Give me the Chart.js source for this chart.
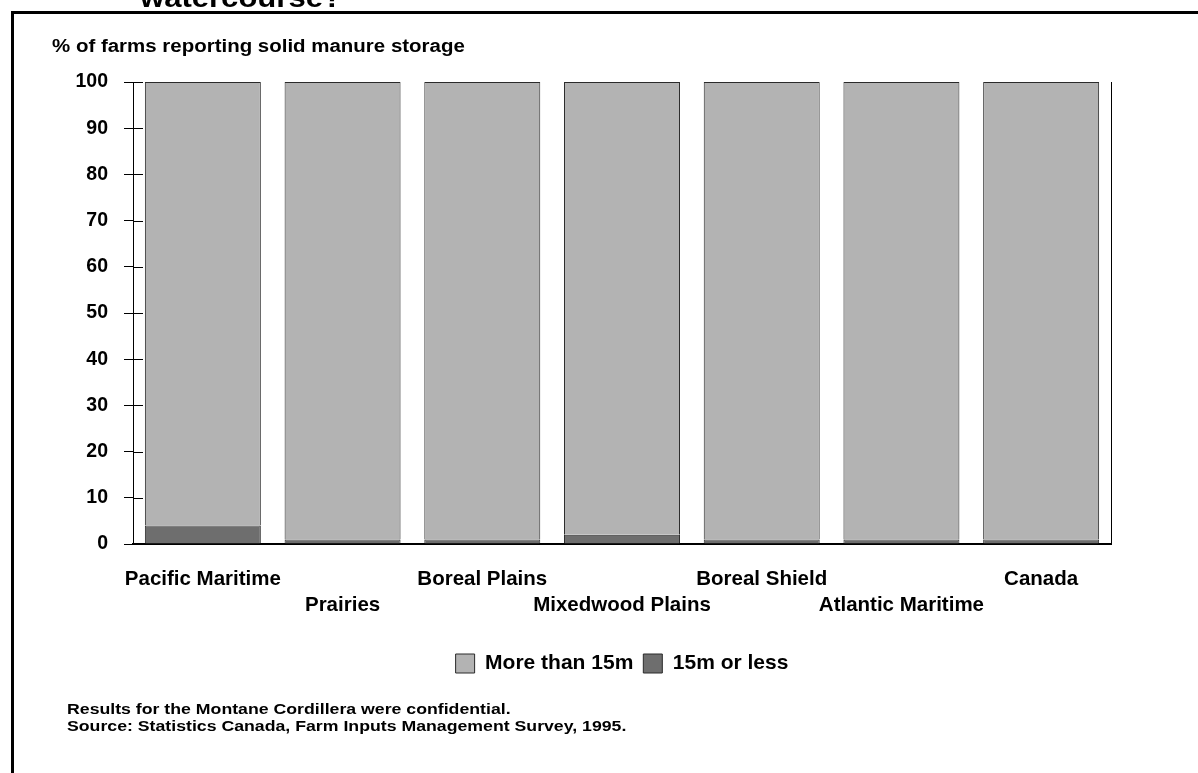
<!DOCTYPE html>
<html>
<head>
<meta charset="utf-8">
<script src="https://cdn.jsdelivr.net/npm/chart.js@4.4.1/dist/chart.umd.min.js"></script>
<style>
  html, body { margin: 0; padding: 0; background: #fff; overflow: hidden; }
</style>
</head>
<body>
<canvas id="chart" width="1198" height="773"></canvas>
<script>
/* data */
const regions = [
  'Pacific Maritime',
  'Prairies',
  'Boreal Plains',
  'Mixedwood Plains',
  'Boreal Shield',
  'Atlantic Maritime',
  'Canada'
];
const moreThan15m = [96, 99, 99, 98, 99, 99, 99];
const fifteenOrLess = [4, 1, 1, 2, 1, 1, 1];
const yTickValues = [0, 10, 20, 30, 40, 50, 60, 70, 80, 90, 100];

const FONT = '"Liberation Sans", Arial, sans-serif';

/* alternate the category labels on two rows */
const staggered = regions.map((r, i) => i % 2 === 0 ? [r, ''] : ['', r]);

/* text drawn a little wider than tall, like the scanned original */
function wideText(ctx, text, x, y, sx) {
  ctx.save();
  ctx.translate(x, y);
  ctx.scale(sx, 1);
  ctx.fillText(text, 0, 0);
  ctx.restore();
}

/* frame, titles and notes around the plot */
const decorations = {
  id: 'decorations',
  afterDraw(chart) {
    const ctx = chart.ctx;
    const a = chart.chartArea;
    const y = chart.scales.y;
    ctx.save();
    ctx.strokeStyle = '#000';
    ctx.lineWidth = 1;
    // right edge of plot
    ctx.beginPath();
    ctx.moveTo(a.right + 0.5, a.top);
    ctx.lineTo(a.right + 0.5, a.bottom);
    ctx.stroke();
    // inner half of the crossing tick marks
    ctx.beginPath();
    yTickValues.forEach(v => {
      const py = Math.round(y.getPixelForValue(v)) + 0.5;
      ctx.moveTo(a.left, py);
      ctx.lineTo(a.left + 10, py);
    });
    ctx.stroke();
    // outer box
    ctx.fillStyle = '#000';
    ctx.fillRect(11, 11, 1198, 3);
    ctx.fillRect(11, 11, 3, 773);
    // cut-off heading above the box
    ctx.font = 'bold 27px ' + FONT;
    ctx.textBaseline = 'alphabetic';
    wideText(ctx, 'watercourse?', 140, 7, 1.15);
    // axis title
    ctx.font = 'bold 18px ' + FONT;
    ctx.textBaseline = 'middle';
    wideText(ctx, '% of farms reporting solid manure storage', 52, 47, 1.137);
    // notes
    ctx.font = 'bold 15px ' + FONT;
    wideText(ctx, 'Results for the Montane Cordillera were confidential.', 67, 710, 1.18);
    wideText(ctx, 'Source: Statistics Canada, Farm Inputs Management Survey, 1995.', 67, 727, 1.18);
    ctx.restore();
  }
};

new Chart(document.getElementById('chart'), {
  type: 'bar',
  data: {
    labels: staggered,
    datasets: [
      {
        label: '15m or less',
        data: fifteenOrLess,
        backgroundColor: '#6e6e6e',
        borderColor: '#2a2a2a',
        borderWidth: 1,
        barPercentage: 0.83,
        categoryPercentage: 1
      },
      {
        label: 'More than 15m',
        data: moreThan15m,
        backgroundColor: '#b3b3b3',
        borderColor: '#2a2a2a',
        borderWidth: 1,
        barPercentage: 0.83,
        categoryPercentage: 1
      }
    ]
  },
  options: {
    responsive: false,
    animation: false,
    layout: { padding: { left: 0, right: 87, top: 82, bottom: 89 } },
    plugins: {
      tooltip: { enabled: false },
      legend: {
        position: 'bottom',
        fullSize: false,
        reverse: true,
        labels: {
          boxWidth: 19,
          boxHeight: 19,
          padding: 10,
          color: '#000',
          font: { family: FONT, size: 21, weight: 'bold' }
        }
      }
    },
    scales: {
      x: {
        stacked: true,
        grid: { display: false },
        border: { display: true, color: '#000', width: 2 },
        ticks: {
          color: '#000',
          padding: 14,
          maxRotation: 0,
          autoSkip: false,
          font: { family: FONT, size: 20.5, weight: 'bold', lineHeight: 1.27 }
        },
        afterFit(s) { s.height = 99; }
      },
      y: {
        stacked: true,
        min: 0,
        max: 100,
        afterBuildTicks(s) { s.ticks = yTickValues.map(v => ({ value: v })); },
        grid: { drawOnChartArea: false, drawTicks: true, tickLength: 9, color: '#000' },
        border: { display: true, color: '#000', width: 1 },
        ticks: {
          color: '#000',
          padding: 16,
          font: { family: FONT, size: 19.5, weight: 'bold' }
        },
        afterFit(s) { s.width = 133; }
      }
    }
  },
  plugins: [decorations]
});
</script>
</body>
</html>
